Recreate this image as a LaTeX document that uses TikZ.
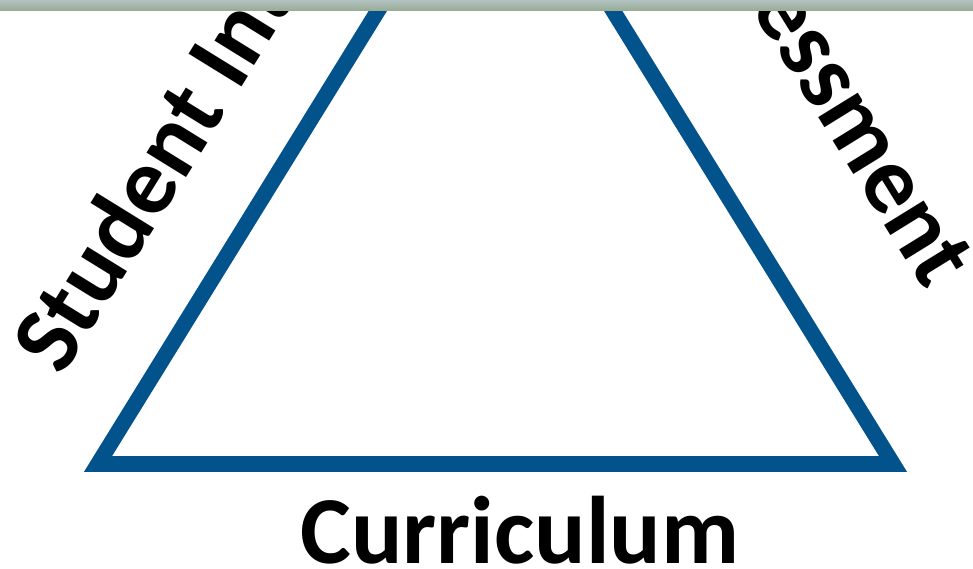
\documentclass[tikz,border=0pt]{standalone}
\usepackage{fontspec}
\setmainfont{Carlito}
\definecolor{triblue}{RGB}{2,82,140}
\definecolor{bandtop}{RGB}{178,194,194}
\definecolor{bandbot}{RGB}{152,172,148}
\begin{document}
\begin{tikzpicture}[x=1pt,y=-1pt,
  lbl/.style={font=\fontsize{96}{115}\selectfont\bfseries, inner sep=0pt, text=black},
  tri/.style={draw=triblue, line width=15.6pt, line join=miter}]
\useasboundingbox (0,0) rectangle (973,569);
\begin{scope}
\clip (0,0) rectangle (973,569);
\coordinate (A) at (495.5,-179.6);
\coordinate (BL) at (98,464);
\coordinate (BR) at (893,464);
\draw[tri] (BL) -- (A) -- (BR) -- cycle;
\node[lbl, rotate=58.3, anchor=base west] (si) at (62,378) {Student Interests};
\node[lbl, rotate=-58.3, anchor=base east] (as) at (926,292) {Assessment};
\node[lbl, anchor=base] (cur) at (520,563) {Curriculum};
\end{scope}
\fill[top color=bandtop, bottom color=bandbot] (0,0) rectangle (973,10.5);
\end{tikzpicture}
\end{document}
